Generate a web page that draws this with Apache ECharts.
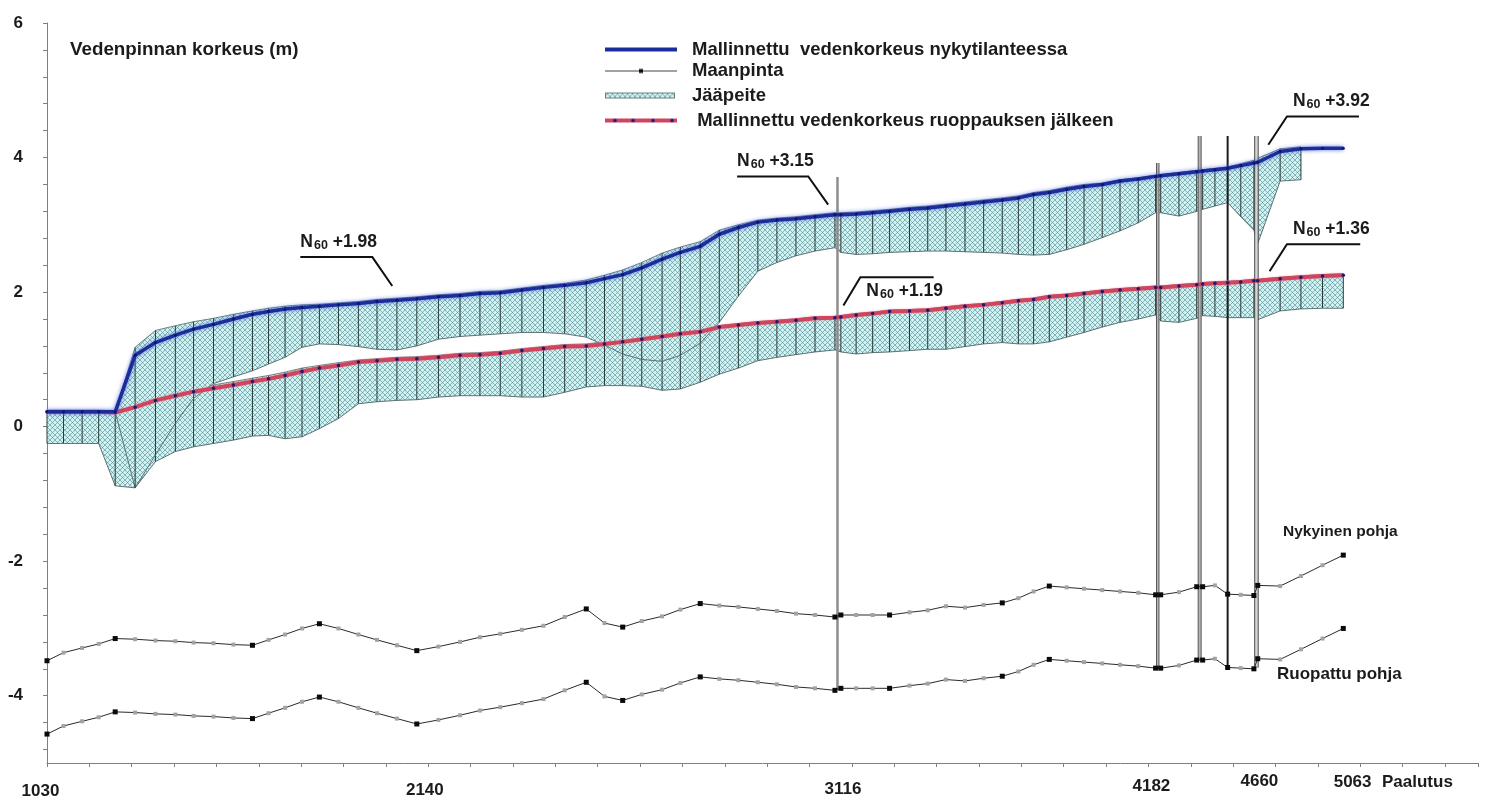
<!DOCTYPE html>
<html>
<head>
<meta charset="utf-8">
<title>Vedenpinnan korkeus</title>
<script src="https://cdn.jsdelivr.net/npm/echarts@6/dist/echarts.min.js"></script>
<style>
  html, body { margin: 0; padding: 0; background: #fff; }
  #chart { width: 1488px; height: 800px; }
</style>
</head>
<body>
<div id="chart"></div>
<script>
// ---------------------------------------------------------------------------
// Profile data: one entry per cross-section along the channel.
// dist = distance along the profile (m) used for the horizontal scale.
// ---------------------------------------------------------------------------
const dist = [
  0, 39, 83, 122, 161, 208, 256, 303, 346, 393,
  440, 485, 523, 562, 602, 643, 688, 735, 779, 826,
  873, 924, 975, 1022, 1070, 1121, 1172, 1222, 1273, 1316,
  1359, 1404, 1452, 1495, 1542, 1587, 1632, 1678, 1723, 1768,
  1813, 1860, 1874, 1910, 1949, 1989, 2036, 2079, 2122, 2167,
  2211, 2255, 2293, 2329, 2366, 2407, 2448, 2491, 2533, 2576,
  2617, 2629, 2672, 2714, 2728, 2757, 2787, 2818, 2849, 2858,
  2911, 2960, 3011, 3060
];

// Channel bottom today (Nykyinen pohja), N60 m
const bedNow = [
  -3.48, -3.36, -3.29, -3.23, -3.15, -3.16, -3.18, -3.19, -3.21, -3.22,
  -3.24, -3.25, -3.17, -3.09, -3.00, -2.93, -3.00, -3.09, -3.17, -3.25,
  -3.33, -3.27, -3.20, -3.13, -3.08, -3.02, -2.96, -2.83, -2.71, -2.92,
  -2.98, -2.89, -2.82, -2.72, -2.63, -2.66, -2.68, -2.71, -2.74, -2.78,
  -2.80, -2.83, -2.80, -2.80, -2.80, -2.80, -2.76, -2.73, -2.67, -2.69,
  -2.65, -2.62, -2.55, -2.45, -2.37, -2.39, -2.41, -2.43, -2.45, -2.47,
  -2.50, -2.50, -2.46, -2.38, -2.38, -2.36, -2.49, -2.50, -2.51, -2.36,
  -2.37, -2.22, -2.06, -1.91
];

// Channel bottom after dredging (Ruopattu pohja), N60 m
const bedDredged = [
  -4.57, -4.45, -4.38, -4.32, -4.24, -4.25, -4.27, -4.28, -4.30, -4.31,
  -4.33, -4.34, -4.26, -4.18, -4.09, -4.02, -4.09, -4.18, -4.26, -4.34,
  -4.42, -4.36, -4.29, -4.22, -4.17, -4.11, -4.05, -3.92, -3.80, -4.01,
  -4.07, -3.98, -3.91, -3.81, -3.72, -3.75, -3.77, -3.80, -3.83, -3.87,
  -3.89, -3.92, -3.89, -3.89, -3.89, -3.89, -3.85, -3.82, -3.76, -3.78,
  -3.74, -3.71, -3.64, -3.54, -3.46, -3.48, -3.50, -3.52, -3.54, -3.56,
  -3.59, -3.59, -3.55, -3.47, -3.47, -3.45, -3.58, -3.59, -3.60, -3.45,
  -3.46, -3.31, -3.15, -3.00
];

// Sections that were surveyed (drawn with black markers on the bottom lines)
const surveyedSections = [0, 4, 11, 15, 20, 28, 30, 34, 41, 42, 45, 51, 54, 60, 61, 63, 64, 66, 68, 69, 73];

// Modelled water level, present situation
const wlNow = [
  0.22, 0.22, 0.22, 0.22, 0.22, 1.06, 1.25, 1.36, 1.45, 1.52,
  1.60, 1.67, 1.71, 1.75, 1.77, 1.79, 1.81, 1.83, 1.86, 1.88,
  1.90, 1.93, 1.95, 1.98, 1.99, 2.03, 2.07, 2.10, 2.14, 2.20,
  2.26, 2.36, 2.49, 2.59, 2.68, 2.86, 2.96, 3.04, 3.07, 3.09,
  3.12, 3.15, 3.15, 3.16, 3.18, 3.20, 3.23, 3.25, 3.28, 3.31,
  3.34, 3.37, 3.40, 3.45, 3.48, 3.53, 3.57, 3.60, 3.65, 3.68,
  3.72, 3.73, 3.76, 3.79, 3.80, 3.82, 3.84, 3.88, 3.92, 3.93,
  4.09, 4.13, 4.14, 4.14
];

// Modelled water level after dredging
const wlDredged = [
  0.22, 0.22, 0.22, 0.22, 0.21, 0.29, 0.39, 0.46, 0.52, 0.57,
  0.62, 0.67, 0.71, 0.76, 0.82, 0.87, 0.91, 0.96, 0.98, 1.00,
  1.01, 1.03, 1.06, 1.07, 1.09, 1.13, 1.16, 1.19, 1.20, 1.23,
  1.26, 1.30, 1.34, 1.38, 1.41, 1.48, 1.51, 1.54, 1.56, 1.58,
  1.61, 1.62, 1.63, 1.66, 1.68, 1.71, 1.72, 1.73, 1.76, 1.79,
  1.81, 1.84, 1.87, 1.89, 1.93, 1.95, 1.98, 2.01, 2.03, 2.05,
  2.07, 2.07, 2.09, 2.11, 2.12, 2.13, 2.14, 2.15, 2.17, 2.17,
  2.20, 2.22, 2.24, 2.25
];

// Ice cover, present situation: upper and lower surface (null = no ice)
const iceNowTop = [
  null, null, null, null, 0.22, 1.18, 1.43, 1.50, 1.56, 1.61,
  1.67, 1.72, 1.76, 1.79, 1.81, 1.82, 1.84, 1.86, 1.89, 1.91,
  1.93, 1.96, 1.98, 2.01, 2.02, 2.06, 2.10, 2.13, 2.18, 2.25,
  2.33, 2.44, 2.58, 2.67, 2.75, 2.92, 3.00, 3.07, 3.10, 3.12,
  3.15, 3.18, 3.18, 3.19, 3.21, 3.23, 3.26, 3.28, 3.31, 3.34,
  3.37, 3.40, 3.43, 3.48, 3.51, 3.56, 3.60, 3.62, 3.67, 3.70,
  3.74, 3.75, 3.78, 3.81, 3.82, 3.84, 3.86, 3.91, 3.96, 3.99,
  4.13, 4.16, null, null
];
const iceNowBottom = [
  null, null, null, null, 0.22, -0.91, -0.42, 0.05, 0.42, 0.64,
  0.74, 0.83, 0.93, 1.03, 1.18, 1.23, 1.22, 1.19, 1.15, 1.14,
  1.20, 1.30, 1.34, 1.36, 1.38, 1.40, 1.40, 1.38, 1.33, 1.21,
  1.08, 1.00, 0.97, 1.06, 1.24, 1.55, 1.94, 2.31, 2.44, 2.54,
  2.61, 2.66, 2.59, 2.56, 2.57, 2.59, 2.60, 2.61, 2.61, 2.60,
  2.59, 2.58, 2.56, 2.55, 2.56, 2.63, 2.71, 2.81, 2.91, 3.03,
  3.18, 3.18, 3.13, 3.20, 3.23, 3.28, 3.33, 3.12, 2.92, 2.72,
  3.65, 3.67, null, null
];

// Ice cover after dredging: upper and lower surface
const iceDredgedTop = [
  0.24, 0.24, 0.24, 0.24, 0.24, 0.36, 0.46, 0.52, 0.57, 0.62,
  0.67, 0.72, 0.76, 0.81, 0.87, 0.91, 0.95, 0.99, 1.01, 1.03,
  1.04, 1.06, 1.09, 1.10, 1.12, 1.16, 1.19, 1.22, 1.23, 1.26,
  1.29, 1.33, 1.37, 1.41, 1.44, 1.50, 1.53, 1.56, 1.58, 1.60,
  1.63, 1.64, 1.65, 1.68, 1.70, 1.73, 1.74, 1.75, 1.78, 1.81,
  1.83, 1.86, 1.89, 1.91, 1.95, 1.97, 2.00, 2.03, 2.05, 2.07,
  2.09, 2.09, 2.11, 2.13, 2.14, 2.15, 2.16, 2.17, 2.19, 2.19,
  2.22, 2.24, 2.26, 2.27
];
const iceDredgedBottom = [
  -0.25, -0.25, -0.25, -0.25, -0.88, -0.91, -0.52, -0.37, -0.30, -0.25,
  -0.20, -0.14, -0.13, -0.18, -0.15, -0.03, 0.12, 0.34, 0.37, 0.39,
  0.40, 0.44, 0.46, 0.46, 0.46, 0.44, 0.44, 0.51, 0.59, 0.61,
  0.61, 0.60, 0.54, 0.56, 0.66, 0.78, 0.87, 0.98, 1.03, 1.07,
  1.11, 1.14, 1.11, 1.08, 1.10, 1.11, 1.13, 1.15, 1.15, 1.19,
  1.23, 1.25, 1.23, 1.23, 1.26, 1.33, 1.40, 1.48, 1.55, 1.60,
  1.66, 1.57, 1.55, 1.61, 1.65, 1.64, 1.62, 1.62, 1.62, 1.59,
  1.72, 1.75, 1.76, 1.76
];

// Structures (bridges / piers) crossing the profile: position, top and foot level
const structDist = [1866, 2622, 2721, 2787, 2855];
const structTop = [3.71, 3.92, 4.32, 4.32, 4.32];
const structBottom = [-3.90, -3.58, -3.46, -3.56, -3.58];

// Chainage labels along the bottom axis
const stationPos = [0, 892, 1879, 2607, 2862, 3082];
const stationLabels = ['1030', '2140', '3116', '4182', '4660', '5063'];

// Vertical axis labels
const yLabelValues = [-4, -2, 0, 2, 4, 6];

// Water level call-outs (N60 heights)
const calloutTexts = ['+1.98', '+3.15', '+1.19', '+3.92', '+1.36'];

// ---------------------------------------------------------------------------
// Layout / styling
// ---------------------------------------------------------------------------
const FONT = '"Liberation Sans", Arial, sans-serif';
const INK = '#1b1b1b';
const X_MAX = 3378;

// call-out geometry in data units: pointer tip, elbow, end of the shelf line
const calloutLayout = [
  { tip: [815, 2.09], elbow: [768, 2.52], shelfTo: 598, below: false },
  { tip: [1844, 3.30], elbow: [1797, 3.72], shelfTo: 1629, below: false },
  { tip: [1880, 1.80], elbow: [1920, 2.22], shelfTo: 2093, below: true },
  { tip: [2883, 4.19], elbow: [2927, 4.61], shelfTo: 3097, below: false },
  { tip: [2886, 2.31], elbow: [2927, 2.71], shelfTo: 3100, below: false }
];
// vertical nudge of each chainage label
const stationDrop = [10, 9, 8, 5, 0, 1];
// stroke looks of the structures: [outer width, outer colour, inner width, inner colour]
const structLook = [
  [2.5, '#8d8d8d', 0, null],
  [3.5, '#5a5a5a', 1.5, '#b4b4b4'],
  [4, '#5a5a5a', 2, '#b4b4b4'],
  [2, '#1c1c1c', 0, null],
  [4.5, '#4a4a4a', 2.5, '#d6d6d6']
];

const NAME_NOW = 'Mallinnettu  vedenkorkeus nykytilanteessa';
const NAME_BED = 'Maanpinta';
const NAME_ICE = 'Jääpeite';
const NAME_DREDGED = ' Mallinnettu vedenkorkeus ruoppauksen jälkeen';

// cross-hatch tile for the ice cover
function makeHatchTile() {
  const c = document.createElement('canvas');
  c.width = 5; c.height = 5;
  const g = c.getContext('2d');
  g.fillStyle = '#d0f2f2';
  g.fillRect(0, 0, 5, 5);
  g.strokeStyle = 'rgba(70,130,135,0.55)';
  g.lineWidth = 1;
  g.beginPath();
  g.moveTo(0, 0); g.lineTo(5, 5);
  g.moveTo(5, 0); g.lineTo(0, 5);
  g.stroke();
  return c;
}
const hatchTile = makeHatchTile();
const icePattern = { image: hatchTile, repeat: 'repeat' };

function iconURL(w, h, draw) {
  const c = document.createElement('canvas');
  c.width = w; c.height = h;
  draw(c.getContext('2d'), w, h);
  return 'image://' + c.toDataURL();
}
const iconNow = iconURL(72, 10, (g, w, h) => {
  g.strokeStyle = '#1c2c9a'; g.lineWidth = 4;
  g.beginPath(); g.moveTo(0, h / 2); g.lineTo(w, h / 2); g.stroke();
});
const iconBed = iconURL(72, 10, (g, w, h) => {
  g.strokeStyle = '#444'; g.lineWidth = 1;
  g.beginPath(); g.moveTo(0, h / 2 + 0.5); g.lineTo(w, h / 2 + 0.5); g.stroke();
  g.fillStyle = '#111'; g.fillRect(w / 2 - 2, h / 2 - 1.5, 4, 4);
});
const iconIce = iconURL(72, 8, (g, w, h) => {
  g.fillStyle = g.createPattern(hatchTile, 'repeat');
  g.fillRect(0.5, 1.5, w - 3, h - 3);
  g.strokeStyle = '#6d7d7d'; g.lineWidth = 1;
  g.strokeRect(0.5, 1.5, w - 3, h - 3);
});
const iconDredged = iconURL(72, 10, (g, w, h) => {
  g.strokeStyle = '#d0455e'; g.lineWidth = 4;
  g.beginPath(); g.moveTo(0, h / 2); g.lineTo(w, h / 2); g.stroke();
  g.fillStyle = '#1a1a78';
  [10, 28, 48, 67].forEach(x => { g.beginPath(); g.arc(x, h / 2, 1.8, 0, Math.PI * 2); g.fill(); });
});

// ---------------------------------------------------------------------------
// Series builders
// ---------------------------------------------------------------------------
const surveyedSet = new Set(surveyedSections);

function bedSeries(values) {
  return {
    type: 'line', name: NAME_BED, z: 3, silent: true,
    data: dist.map((d, i) => ({
      value: [d, values[i]],
      symbol: 'rect',
      symbolSize: surveyedSet.has(i) ? 5 : 4,
      itemStyle: { color: surveyedSet.has(i) ? '#0a0a0a' : '#a3a3a3' }
    })),
    lineStyle: { color: '#2a2a2a', width: 1 }
  };
}

function iceSeries(top, bottom) {
  const items = [];
  for (let i = 0; i < dist.length - 1; i++) {
    if (top[i] == null || top[i + 1] == null) continue;
    items.push([dist[i], top[i], bottom[i], dist[i + 1], top[i + 1], bottom[i + 1]]);
  }
  const last = items.length - 1;
  return {
    type: 'custom', name: NAME_ICE, z: 1, silent: true,
    data: items,
    encode: { x: [0, 3], y: [1, 2, 4, 5] },
    renderItem: (params, api) => {
      const a = api.coord([api.value(0), api.value(1)]);
      const b = api.coord([api.value(3), api.value(4)]);
      const c = api.coord([api.value(3), api.value(5)]);
      const d = api.coord([api.value(0), api.value(2)]);
      const children = [
        { type: 'polygon', shape: { points: [a, b, c, d] }, style: { fill: icePattern, stroke: null } },
        { type: 'line', shape: { x1: a[0], y1: a[1], x2: b[0], y2: b[1] }, style: { stroke: '#6f8282', lineWidth: 1 } },
        { type: 'line', shape: { x1: d[0], y1: d[1], x2: c[0], y2: c[1] }, style: { stroke: '#5f7373', lineWidth: 1 } },
        { type: 'line', shape: { x1: a[0], y1: a[1], x2: d[0], y2: d[1] }, style: { stroke: '#263838', lineWidth: 1 } }
      ];
      if (params.dataIndex === last) {
        children.push({ type: 'line', shape: { x1: b[0], y1: b[1], x2: c[0], y2: c[1] }, style: { stroke: '#263838', lineWidth: 1 } });
      }
      return { type: 'group', children };
    }
  };
}

const structureSeries = {
  type: 'custom', name: 'rakenteet', z: 2, silent: true,
  data: structDist.map((d, i) => [d, structTop[i], structBottom[i]]),
  encode: { x: 0, y: [1, 2] },
  renderItem: (params, api) => {
    const p = api.coord([api.value(0), api.value(1)]);
    const q = api.coord([api.value(0), api.value(2)]);
    const look = structLook[params.dataIndex];
    const children = [
      { type: 'line', shape: { x1: p[0], y1: p[1], x2: q[0], y2: q[1] }, style: { stroke: look[1], lineWidth: look[0] } }
    ];
    if (look[2]) {
      children.push({ type: 'line', shape: { x1: p[0], y1: p[1], x2: q[0], y2: q[1] }, style: { stroke: look[3], lineWidth: look[2] } });
    }
    return { type: 'group', children };
  }
};

const calloutRich = {
  n: { fontSize: 17.5, fontWeight: 'bold', fontFamily: FONT, fill: INK, color: INK, lineHeight: 20 },
  s: { fontSize: 12.5, fontWeight: 'bold', fontFamily: FONT, fill: INK, color: INK, lineHeight: 20, verticalAlign: 'bottom', padding: [0, 0, 0, 1] },
  v: { fontSize: 17.5, fontWeight: 'bold', fontFamily: FONT, fill: INK, color: INK, lineHeight: 20 }
};

const calloutSeries = {
  type: 'custom', name: 'N60', z: 6, silent: true,
  data: calloutLayout.map(c => [c.tip[0], c.tip[1], c.elbow[0], c.elbow[1], c.shelfTo]),
  encode: { x: [0, 2, 4], y: [1, 3] },
  renderItem: (params, api) => {
    const i = params.dataIndex;
    const p0 = api.coord([api.value(0), api.value(1)]);
    const p1 = api.coord([api.value(2), api.value(3)]);
    const p2 = api.coord([api.value(4), api.value(3)]);
    const leftward = p2[0] < p1[0];
    const tx = leftward ? p2[0] : p1[0] + 6;
    const ty = calloutLayout[i].below ? p1[1] + 14 : p1[1] - 15;
    return {
      type: 'group',
      children: [
        { type: 'polyline', shape: { points: [p0, p1, p2] }, style: { stroke: '#111', lineWidth: 2, fill: null } },
        {
          type: 'text', x: tx, y: ty,
          style: {
            text: '{n|N}{s|60}{v| ' + calloutTexts[i] + '}',
            rich: calloutRich, align: 'left', verticalAlign: 'middle'
          }
        }
      ]
    };
  }
};

// ---------------------------------------------------------------------------
// Chart
// ---------------------------------------------------------------------------
const chart = echarts.init(document.getElementById('chart'), null, { renderer: 'canvas' });

const legendText = (pad) => ({
  fontFamily: FONT, fontSize: 18.5, fontWeight: 'bold', color: INK, padding: [0, 0, 0, pad]
});
function legendRow(name, icon, top, h, pad) {
  return {
    left: 605, top, orient: 'vertical', padding: 0, itemGap: 0,
    itemWidth: 72, itemHeight: h, selectedMode: false,
    data: [{ name, icon }], textStyle: legendText(pad)
  };
}

const yMinorTicks = [];
for (let k = 0; k <= 27; k++) yMinorTicks.push(Math.round((-4.8 + 0.4 * k) * 10) / 10);

const stationRich = {};
stationDrop.forEach((dy, i) => {
  stationRich['s' + i] = {
    fontFamily: FONT, fontSize: 17, fontWeight: 'bold', color: INK,
    padding: [dy, i === 0 ? 13 : 0, 0, 0]
  };
});

chart.setOption({
  animation: false,
  backgroundColor: '#ffffff',
  textStyle: { fontFamily: FONT },
  title: {
    text: 'Vedenpinnan korkeus (m)', left: 70, top: 40, padding: 0,
    textStyle: { fontFamily: FONT, fontSize: 18.8, fontWeight: 'bold', color: INK }
  },
  grid: { left: 47, right: 10, top: 23, bottom: 33, containLabel: false },
  legend: [
    legendRow(NAME_NOW, iconNow, 40, 10, 10),
    legendRow(NAME_BED, iconBed, 61, 10, 10),
    legendRow(NAME_ICE, iconIce, 86, 8, 10),
    legendRow(NAME_DREDGED, iconDredged, 111, 10, 10)
  ],
  xAxis: [
    {
      type: 'value', min: 0, max: X_MAX, interval: 100,
      axisLine: { show: true, onZero: false, lineStyle: { color: '#808080', width: 1 } },
      axisTick: { show: true, length: 4, lineStyle: { color: '#808080' } },
      axisLabel: { show: false },
      splitLine: { show: false },
      name: 'Paalutus', nameLocation: 'end', nameGap: -96,
      nameTextStyle: {
        fontFamily: FONT, fontSize: 17, fontWeight: 'bold', color: INK,
        verticalAlign: 'top', padding: [11, 0, 0, 0]
      }
    },
    {
      type: 'value', min: 0, max: X_MAX, position: 'bottom',
      axisLine: { show: false, onZero: false }, axisTick: { show: false }, splitLine: { show: false },
      axisLabel: {
        show: true, customValues: stationPos, margin: 10,
        formatter: (v) => {
          const i = stationPos.indexOf(v);
          return i < 0 ? '' : '{s' + i + '|' + stationLabels[i] + '}';
        },
        rich: stationRich
      }
    }
  ],
  yAxis: {
    type: 'value', min: -5, max: 6,
    axisLine: { show: true, onZero: false, lineStyle: { color: '#808080', width: 1 } },
    axisTick: { show: true, customValues: yMinorTicks, length: 4, lineStyle: { color: '#808080' } },
    axisLabel: {
      customValues: yLabelValues, margin: 24,
      fontFamily: FONT, fontSize: 17, fontWeight: 'bold', color: INK,
      padding: [4, 0, 0, 0]
    },
    splitLine: { show: false }
  },
  graphic: [
    { type: 'text', left: 1283, top: 524, silent: true,
      style: { text: 'Nykyinen pohja', font: 'bold 15.5px ' + FONT, fill: INK } },
    { type: 'text', left: 1277, top: 666, silent: true,
      style: { text: 'Ruopattu pohja', font: 'bold 17px ' + FONT, fill: INK } }
  ],
  series: [
    iceSeries(iceDredgedTop, iceDredgedBottom),
    iceSeries(iceNowTop, iceNowBottom),
    structureSeries,
    bedSeries(bedNow),
    bedSeries(bedDredged),
    {
      type: 'line', name: NAME_DREDGED, z: 4, silent: true,
      data: dist.map((d, i) => [d, wlDredged[i]]),
      symbol: 'circle', symbolSize: 3.5, showSymbol: true,
      itemStyle: { color: '#1a1a78' },
      lineStyle: { color: '#d0455e', width: 4, shadowColor: 'rgba(230,140,160,0.8)', shadowBlur: 2 }
    },
    {
      type: 'line', name: NAME_NOW, z: 5, silent: true,
      data: dist.map((d, i) => [d, wlNow[i]]),
      symbol: 'circle', symbolSize: 3, showSymbol: true,
      itemStyle: { color: '#0c1670' },
      lineStyle: { color: '#1c2c9a', width: 3.5, shadowColor: 'rgba(70,100,225,0.85)', shadowBlur: 4 }
    },
    calloutSeries
  ]
});
</script>
</body>
</html>
